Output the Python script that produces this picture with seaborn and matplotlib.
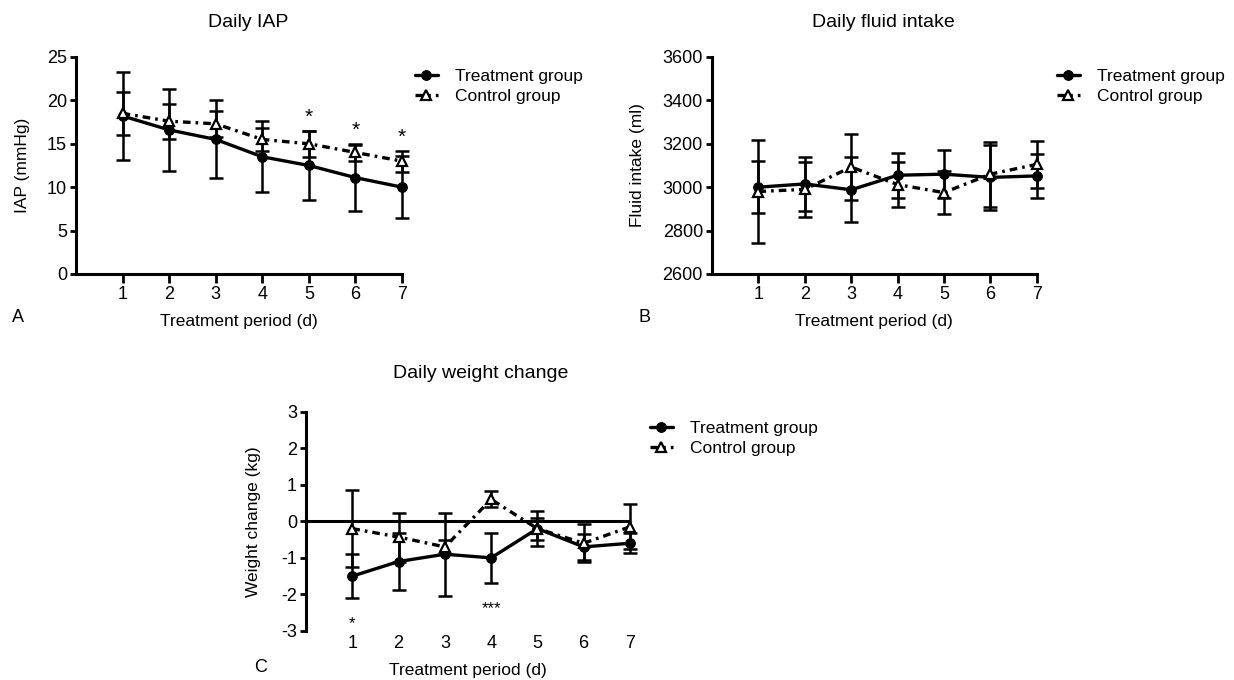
import matplotlib
matplotlib.use("Agg")
import matplotlib.pyplot as plt
import seaborn as sns

# ── data ───────────────────────────────────────────────────────────────────
days = [1, 2, 3, 4, 5, 6, 7]

iap_treat = [18.2, 16.6, 15.5, 13.5, 12.5, 11.1, 10.0]
iap_treat_sd = [5.1, 4.7, 4.5, 4.1, 4.0, 3.8, 3.6]
iap_ctrl = [18.5, 17.6, 17.3, 15.5, 15.0, 14.0, 13.0]
iap_ctrl_sd = [2.5, 2.0, 1.5, 1.3, 1.5, 1.0, 1.2]
iap_sig = ["", "", "", "", "*", "*", "*"]

fluid_treat = [3000, 3015, 2988, 3055, 3060, 3045, 3052]
fluid_treat_sd = [119, 125, 150, 104, 110, 150, 103]
fluid_ctrl = [2980, 2990, 3093, 3012, 2975, 3060, 3105]
fluid_ctrl_sd = [238, 127, 152, 102, 100, 150, 110]

wt_treat = [-1.5, -1.1, -0.9, -1.0, -0.2, -0.7, -0.6]
wt_treat_sd = [0.6, 0.77, 1.13, 0.68, 0.47, 0.36, 0.28]
wt_ctrl = [-0.2, -0.43, -0.7, 0.6, -0.2, -0.6, -0.15]
wt_ctrl_sd = [1.05, 0.67, 0.2, 0.22, 0.3, 0.52, 0.62]
wt_sig = ["*", "", "", "***", "", "", ""]

group_names = ["Treatment group", "Control group"]

# ── style ──────────────────────────────────────────────────────────────────
sns.set_theme(style="ticks")
plt.rcParams["font.family"] = ["Liberation Sans", "DejaVu Sans"]
plt.rcParams["axes.unicode_minus"] = False
plt.rcParams["axes.linewidth"] = 2.2
plt.rcParams["xtick.major.width"] = 2.0
plt.rcParams["ytick.major.width"] = 2.0
plt.rcParams["xtick.color"] = "black"
plt.rcParams["ytick.color"] = "black"
plt.rcParams["axes.edgecolor"] = "black"
plt.rcParams["axes.labelcolor"] = "black"
plt.rcParams["text.color"] = "black"

LW = 2.4
DASHDOT = (0, (2.3, 1.5, 0.8, 1.5))


def draw_panel(ax, treat, treat_sd, ctrl, ctrl_sd):
    for vals, sd in ((treat, treat_sd), (ctrl, ctrl_sd)):
        eb = ax.errorbar(days, vals, yerr=sd, fmt="none", ecolor="black",
                         elinewidth=1.8, capsize=4.7, capthick=1.8, zorder=2)
        for art in eb.get_children():
            art.set_clip_on(False)
    sns.lineplot(x=days, y=treat, ax=ax, color="black", lw=LW, marker="o",
                 markersize=7, markeredgecolor="black", markerfacecolor="black",
                 label=group_names[0], zorder=3, clip_on=False)
    sns.lineplot(x=days, y=ctrl, ax=ax, color="black", lw=LW, linestyle=DASHDOT,
                 marker="^", markersize=7.5, markeredgecolor="black",
                 markeredgewidth=1.6, markerfacecolor="white",
                 label=group_names[1], zorder=4, clip_on=False)
    ax.set_xlim(0, 7)
    ax.set_xticks(days)
    ax.spines["top"].set_visible(False)
    ax.spines["right"].set_visible(False)
    ax.tick_params(axis="y", length=4.5, pad=2, labelsize=13)
    ax.tick_params(axis="x", length=6.5, pad=2, labelsize=13)


def place_legend(ax, x_px, y_px):
    ax.legend(loc="center left", bbox_to_anchor=(x_px / 1234, 1 - y_px / 680),
              bbox_transform=ax.figure.transFigure, frameon=False, fontsize=12.5,
              handlelength=1.3, handletextpad=1.0, labelspacing=0.25,
              borderpad=0, borderaxespad=0, numpoints=1)


fig = plt.figure(figsize=(12.34, 6.8), dpi=100)
axA = fig.add_axes([0.0616, 0.5971, 0.2642, 0.3191])
axB = fig.add_axes([0.577, 0.5971, 0.2631, 0.3191])
axC = fig.add_axes([0.248, 0.0721, 0.2625, 0.3225])

# A: Daily IAP
draw_panel(axA, iap_treat, iap_treat_sd, iap_ctrl, iap_ctrl_sd)
axA.set_ylim(0, 25)
axA.set_yticks([0, 5, 10, 15, 20, 25])
for d, m, s, t in zip(days, iap_ctrl, iap_ctrl_sd, iap_sig):
    if t:
        axA.text(d, m + s + 1.6, t, ha="center", va="center", fontsize=15)
axA.set_title("Daily IAP", fontsize=14, x=0.528, y=1.161, pad=0, va="center")
axA.set_ylabel("IAP (mmHg)", fontsize=12.5)
axA.set_xlabel("Treatment period (d)", fontsize=12.5)
axA.yaxis.set_label_coords(-0.14, 0.5)
axA.xaxis.set_label_coords(0.5, -0.184)
place_legend(axA, 415, 86.5)

# B: Daily fluid intake
draw_panel(axB, fluid_treat, fluid_treat_sd, fluid_ctrl, fluid_ctrl_sd)
axB.set_ylim(2600, 3600)
axB.set_yticks([2600, 2800, 3000, 3200, 3400, 3600])
axB.set_title("Daily fluid intake", fontsize=14, x=0.529, y=1.161, pad=0, va="center")
axB.set_ylabel("Fluid intake (ml)", fontsize=12.5)
axB.set_xlabel("Treatment period (d)", fontsize=12.5)
axB.yaxis.set_label_coords(-0.206, 0.5)
axB.xaxis.set_label_coords(0.5, -0.184)
place_legend(axB, 1057, 86.5)

# C: Daily weight change
axC.axhline(0, color="black", lw=2.2, zorder=1)
draw_panel(axC, wt_treat, wt_treat_sd, wt_ctrl, wt_ctrl_sd)
axC.set_ylim(-3, 3)
axC.set_yticks([-3, -2, -1, 0, 1, 2, 3])
axC.spines["bottom"].set_visible(False)
axC.tick_params(axis="x", length=0, pad=3)
for d, m, s, t in zip(days, wt_treat, wt_treat_sd, wt_sig):
    if t:
        axC.text(d, m - s - 0.7, t, ha="center", va="center", fontsize=12)
axC.set_title("Daily weight change", fontsize=14, x=0.54, y=1.172, pad=0, va="center")
axC.set_ylabel("Weight change (kg)", fontsize=12.5)
axC.set_xlabel("Treatment period (d)", fontsize=12.5)
axC.yaxis.set_label_coords(-0.139, 0.5)
axC.xaxis.set_label_coords(0.5, -0.146)
place_legend(axC, 650, 438.5)

# panel letters
fig.text(18 / 1234, 1 - 318 / 680, "A", fontsize=13, ha="center", va="center")
fig.text(645 / 1234, 1 - 318 / 680, "B", fontsize=13, ha="center", va="center")
fig.text(261 / 1234, 1 - 668 / 680, "C", fontsize=13, ha="center", va="center")

fig.savefig("out.png", dpi=100)
plt.close(fig)
